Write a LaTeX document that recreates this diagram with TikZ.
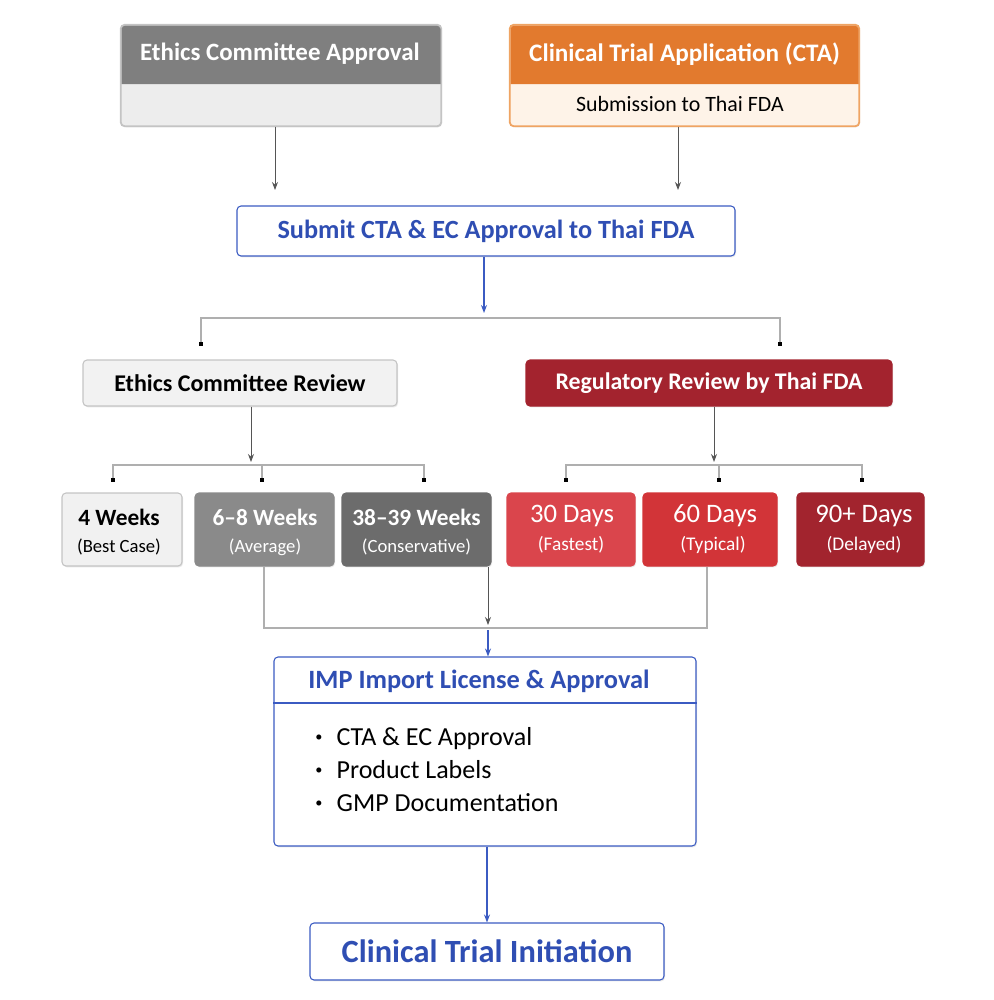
\documentclass[tikz,border=0pt]{standalone}
\usepackage{fontspec}
\setmainfont{Carlito}
\usetikzlibrary{arrows.meta,shadows}
\definecolor{hdgray}{HTML}{7F7F7F}
\definecolor{lightg}{HTML}{EDEDED}
\definecolor{bordg}{HTML}{C4C4C4}
\definecolor{orng}{HTML}{E27A2E}
\definecolor{cream}{HTML}{FEF3E8}
\definecolor{orbord}{HTML}{EFA463}
\definecolor{blu}{HTML}{2F4EB3}
\definecolor{blubord}{HTML}{3B5BC2}
\definecolor{dred}{HTML}{A3232E}
\definecolor{redA}{HTML}{DA454C}
\definecolor{redB}{HTML}{D23438}
\definecolor{redC}{HTML}{A2242E}
\definecolor{grayB}{HTML}{8A8A8A}
\definecolor{grayC}{HTML}{6C6C6C}
\definecolor{conn}{HTML}{555555}
\definecolor{connl}{HTML}{AFAFAF}
\newcommand{\smbul}{\raisebox{0.15em}{\scalebox{0.55}{\textbullet}}\hspace{0.55em}}
\tikzset{
  x=0.75pt, y=-0.75pt,
  boxs/.style={draw, rounded corners=3pt, line width=0.8pt, inner sep=0pt, align=center, drop shadow={shadow xshift=0.8pt, shadow yshift=-1pt, opacity=0.18}},
  arr/.style={draw=conn, line width=0.7pt, -{Stealth[length=6pt,width=4.5pt]}},
  barr/.style={draw=blubord, line width=0.8pt, -{Stealth[length=6pt,width=4.5pt]}},
  ln/.style={draw=connl, line width=0.9pt},
  dotm/.style={fill=black, minimum size=3pt, inner sep=0pt},
  wk/.style={font=\fontsize{17.5}{20}\selectfont\bfseries},
  wks/.style={font=\fontsize{14}{16}\selectfont},
  dy/.style={text=white, font=\fontsize{20}{22}\selectfont},
  dys/.style={text=white, font=\fontsize{14.5}{16}\selectfont},
}
\begin{document}
\begin{tikzpicture}
\useasboundingbox (0,0) rectangle (994,1000);
% top boxes
\node[boxs, draw=bordg, fill=lightg, minimum width=240pt, minimum height=75.75pt] (eca) at (281,75.5) {};
\fill[hdgray] (121.5,84) -- (121.5,28) [rounded corners=3pt] -- (121.5,25.5) -- (440.5,25.5) [sharp corners] -- (440.5,28) -- (440.5,84) -- cycle;
\draw[bordg, line width=0.8pt, rounded corners=3pt] (eca.south west) rectangle (eca.north east);
\node[text=white, font=\fontsize{18.7}{21}\selectfont\bfseries] (ecat) at (280,54) {Ethics Committee Approval};

\node[boxs, draw=orbord, fill=cream, minimum width=261.75pt, minimum height=75.75pt] (cta) at (684.5,75.5) {};
\fill[orng] (510.5,84) -- (510.5,28) [rounded corners=3pt] -- (510.5,25.5) -- (858.5,25.5) [sharp corners] -- (858.5,28) -- (858.5,84) -- cycle;
\draw[orbord, line width=0.8pt, rounded corners=3pt] (cta.south west) rectangle (cta.north east);
\node[text=white, font=\fontsize{18.9}{21}\selectfont\bfseries] (ctat) at (684.5,54) {Clinical Trial Application (CTA)};
\node[font=\fontsize{16.4}{19}\selectfont] (ctas) at (680,104) {Submission to Thai FDA};

% submit
\node[boxs, draw=blubord, fill=white, minimum width=373.5pt, minimum height=37.5pt, text=blu, font=\fontsize{19.7}{22}\selectfont\bfseries] (sub) at (486,231) {Submit CTA \& EC Approval to Thai FDA};
\draw[arr] (eca.south -| 275,0) -- (275,190);
\draw[arr] (cta.south -| 678,0) -- (678,190);

\draw[barr] (sub.south -| 484,0) -- (484,313);
\draw[ln] (201,344) -- (201,318) -- (780,318) -- (780,344);
\node[dotm] (d1) at (201,344) {};
\node[dotm] (d2) at (780,344) {};

% reviews
\node[boxs, draw=bordg, fill=lightg!70!white, minimum width=235.5pt, minimum height=34.5pt, font=\fontsize{18}{21}\selectfont\bfseries] (ecr) at (240,383) {Ethics Committee Review};
\node[boxs, draw=dred, fill=dred, text=white, minimum width=274.5pt, minimum height=34.5pt, font=\fontsize{17.9}{21}\selectfont\bfseries] (reg) at (709,383) {Regulatory Review by Thai FDA};

\draw[arr] (ecr.south -| 251,0) -- (251,462);
\draw[ln] (113,480) -- (113,465) -- (424,465) -- (424,480);
\draw[ln] (262,465) -- (262,480);
\node[dotm] at (113,480) {};
\node[dotm] at (262,480) {};
\node[dotm] at (424,480) {};

\draw[arr] (reg.south -| 714,0) -- (714,462);
\draw[ln] (566,480) -- (566,465) -- (862,465) -- (862,480);
\draw[ln] (719,465) -- (719,480);
\node[dotm] at (566,480) {};
\node[dotm] at (719,480) {};
\node[dotm] at (862,480) {};

% week / day boxes
\tikzset{tb/.style={boxs, minimum height=54.75pt}}
\node[tb, draw=bordg, fill=lightg!80!white, minimum width=90pt] (w4) at (122,529.5) {};
\node[wk] at (119,517) {4 Weeks};
\node[wks] at (119,547) {(Best Case)};

\node[tb, draw=grayB, fill=grayB, minimum width=104.25pt] (w68) at (264.5,529.5) {};
\node[wk, text=white] at (265,517) {6–8 Weeks};
\node[wks, text=white] at (265,547) {(Average)};

\node[tb, draw=grayC, fill=grayC, minimum width=111.75pt] (w38) at (416.5,529.5) {};
\node[wk, text=white] at (416.5,517) {38–39 Weeks};
\node[wks, text=white] at (416.5,547) {(Conservative)};

\node[tb, draw=redA, fill=redA, minimum width=96pt] (d30) at (571,529.5) {};
\node[dy] at (572,516) {30 Days};
\node[dys] at (571,545) {(Fastest)};

\node[tb, draw=redB, fill=redB, minimum width=100.5pt] (d60) at (710,529.5) {};
\node[dy] at (715,516) {60 Days};
\node[dys] at (713,545) {(Typical)};

\node[tb, draw=redC, fill=redC, minimum width=95.25pt] (d90) at (860.5,529.5) {};
\node[dy] at (864,516) {90+ Days};
\node[dys] at (864,545) {(Delayed)};

% merge
\draw[ln] (w68.south -| 264,0) -- (264,628) -- (707,628) -- (d60.south -| 707,0);
\draw[arr] (w38.south -| 488,0) -- (488,625);

% IMP box
\node[boxs, draw=blubord, fill=white, minimum width=316.5pt, minimum height=141.75pt] (imp) at (485,751.5) {};
\draw[barr] (488,630) -- (imp.north -| 488,0);
\node[text=blu, font=\fontsize{19.8}{22}\selectfont\bfseries] (impt) at (479,681) {IMP Import License \& Approval};
\draw[blubord, line width=0.8pt] (imp.west |- 0,703) -- (imp.east |- 0,703);
\node[anchor=north west, align=left, font=\fontsize{19.5}{24.75}\selectfont, inner sep=0pt] (impl) at (315,727) {\smbul CTA \& EC Approval\\ \smbul Product Labels\\ \smbul GMP Documentation};

% final
\node[boxs, draw=blubord, fill=white, minimum width=265.5pt, minimum height=42.75pt, text=blu, font=\fontsize{24.3}{27}\selectfont\bfseries] (fin) at (487,951.5) {Clinical Trial Initiation};
\draw[barr] (imp.south -| 487,0) -- (fin.north);
\end{tikzpicture}
\end{document}
